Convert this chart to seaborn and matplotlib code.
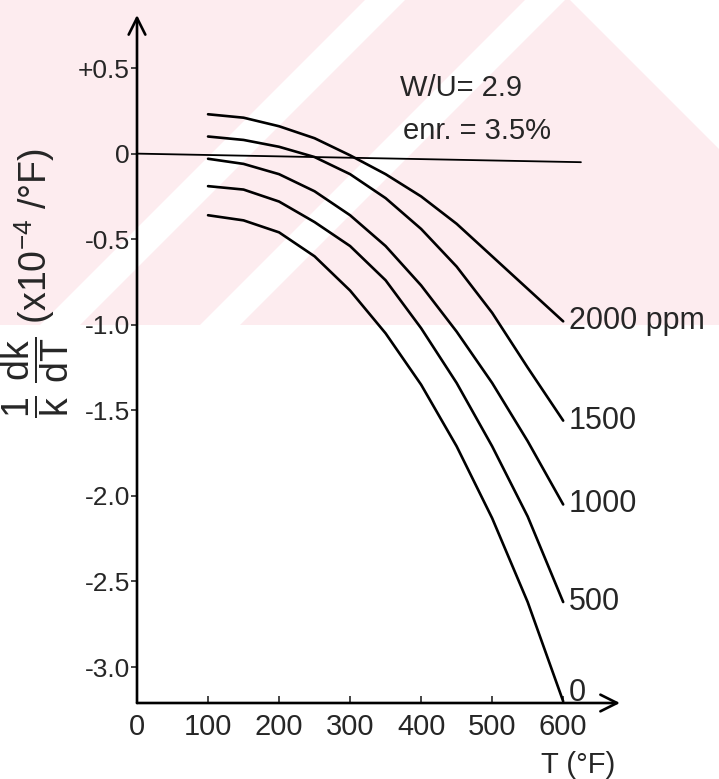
#!/usr/bin/env python3
# -*- coding: utf-8 -*-
"""
1/k dk/dT vs T for several boron concentrations (W/U = 2.9, enr. 3.5 %)
"""

import pandas as pd
import matplotlib
matplotlib.use('Agg')
import matplotlib.pyplot as plt
from matplotlib.patches import Polygon
import seaborn as sns

# ---- data ----
T_F = [100, 150, 200, 250, 300, 350, 400, 450, 500, 550, 600]
ppm_2000 = [0.23, 0.21, 0.16, 0.09, -0.01, -0.12, -0.25, -0.41, -0.60, -0.79, -0.98]
ppm_1500 = [0.10, 0.08, 0.04, -0.02, -0.12, -0.26, -0.44, -0.66, -0.93, -1.25, -1.56]
ppm_1000 = [-0.03, -0.06, -0.12, -0.22, -0.36, -0.54, -0.77, -1.04, -1.34, -1.68, -2.05]
ppm_500 = [-0.19, -0.21, -0.28, -0.40, -0.54, -0.74, -1.02, -1.34, -1.71, -2.12, -2.62]
ppm_0 = [-0.36, -0.39, -0.46, -0.60, -0.80, -1.05, -1.35, -1.71, -2.13, -2.62, -3.20]

series_names = ['2000 ppm', '1500', '1000', '500', '0']
series_values = [ppm_2000, ppm_1500, ppm_1000, ppm_500, ppm_0]

# zero reference line (slightly tilted in the original drawing)
zero_T = [0, 625]
zero_val = [0.0, -0.05]

y_ticks = [0.5, 0.0, -0.5, -1.0, -1.5, -2.0, -2.5, -3.0]
y_tick_labels = ['+0.5', '0', '-0.5', '-1.0', '-1.5', '-2.0', '-2.5', '-3.0']
x_ticks = [0, 100, 200, 300, 400, 500, 600]

W, H = 719, 779


def px(x, y):
    """pixel (top-left origin) -> figure fraction"""
    return (x / W, 1 - y / H)


def add_watermark(fig):
    """light pink background stripes of the scanned page"""
    pink = '#fdecef'
    fig.add_artist(Polygon([px(0, 0), px(719, 0), px(719, 325), px(0, 325)],
                           closed=True, transform=fig.transFigure,
                           facecolor=pink, edgecolor='none', zorder=-10))
    white_bands = [
        [px(40, 325), px(365, 0), px(405, 0), px(80, 325)],
        [px(200, 325), px(525, 0), px(565, 0), px(240, 325)],
        [px(570, 0), px(719, 0), px(719, 149)],
    ]
    for band in white_bands:
        fig.add_artist(Polygon(band, closed=True, transform=fig.transFigure,
                               facecolor='white', edgecolor='none', zorder=-9))


def main():
    sns.set_style('white')
    plt.rcParams['font.family'] = ['Liberation Sans', 'DejaVu Sans']
    plt.rcParams['mathtext.fontset'] = 'custom'
    plt.rcParams['mathtext.rm'] = 'Liberation Sans'
    plt.rcParams['mathtext.it'] = 'Liberation Sans'

    rows = []
    for name, vals in zip(series_names, series_values):
        for t, v in zip(T_F, vals):
            rows.append({'T': t, 'val': v, 'conc': name})
    df = pd.DataFrame(rows)

    fig = plt.figure(figsize=(W / 100, H / 100), dpi=100)
    add_watermark(fig)
    ax = fig.add_axes([137 / W, 76 / H, 483 / W, 688 / H])
    ax.patch.set_alpha(0)

    sns.lineplot(data=df, x='T', y='val', hue='conc', hue_order=series_names,
                 palette=['black'] * 5, linewidth=1.9, legend=False, ax=ax,
                 sort=True, estimator=None)
    for ln in ax.lines:
        ln.set_solid_joinstyle('round')

    ax.plot(zero_T, zero_val, color='black', linewidth=1.3)

    ax.set_xlim(0, 680)
    ax.set_ylim(-3.21, 0.81)

    # end labels
    for name, vals in zip(series_names, series_values):
        y = vals[-1]
        if name == '0':
            y = y + 0.05
        ax.text(T_F[-1] + 8, y, name, fontsize=22, ha='left', va='center')

    ax.text(370, 0.386, 'W/U= 2.9', fontsize=21, ha='left', va='center')
    ax.text(375, 0.134, 'enr. = 3.5%', fontsize=21, ha='left', va='center')

    # axes drawn as arrows
    for s in ['top', 'right', 'left', 'bottom']:
        ax.spines[s].set_visible(False)
    ax.annotate('', xy=(0, 1.0), xytext=(0, 0), xycoords='axes fraction',
                arrowprops=dict(arrowstyle='->', lw=1.9, color='black',
                                mutation_scale=30, shrinkA=0, shrinkB=0))
    ax.annotate('', xy=(1.0, 0), xytext=(0, 0), xycoords='axes fraction',
                arrowprops=dict(arrowstyle='->', lw=1.9, color='black',
                                mutation_scale=30, shrinkA=0, shrinkB=0))

    ax.set_yticks(y_ticks)
    ax.set_yticklabels(y_tick_labels)
    ax.set_xticks(x_ticks)
    ax.set_xticklabels([str(x) for x in x_ticks])
    ax.tick_params(axis='y', direction='out', length=4, width=1.2, labelsize=19, pad=1)
    ax.tick_params(axis='x', direction='in', length=5, width=1.2, labelsize=21, pad=7)
    ax.tick_params(left=True, bottom=True)

    ax.set_ylabel(r'$\dfrac{1}{k}\ \dfrac{dk}{dT}$ (x10$^{-4}$ /°F)', fontsize=27)
    ax.yaxis.label.set_va('center')
    ax.yaxis.set_label_coords(-0.21, 0.61)
    ax.set_xlabel('T (°F)', fontsize=21)
    ax.xaxis.label.set_va('center')
    ax.xaxis.set_label_coords(0.913, -0.09)
    ax.grid(False)

    fig.savefig('out.png', dpi=100, facecolor='white')
    plt.close(fig)


if __name__ == "__main__":
    main()
